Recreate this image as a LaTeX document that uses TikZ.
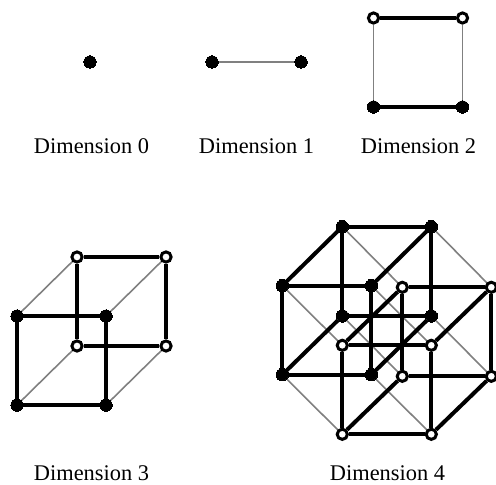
\documentclass[tikz,border=0pt]{standalone}
\usepackage{fontspec}
\setmainfont{Liberation Serif}
\usetikzlibrary{backgrounds}

\begin{document}
\begin{tikzpicture}[
  x=0.5pt, y=-0.5pt,
  solid vertex/.style={circle, fill=black, draw=black, line width=0pt, inner sep=0pt, minimum size=6.2pt},
  open vertex/.style={circle, fill=white, draw=black, line width=1.5pt, inner sep=0pt, minimum size=5.1pt},
  bold edge/.style={line width=2pt, black},
  thin edge/.style={line width=0.8pt, black!50},
  caption/.style={font=\fontsize{11.2}{13}\selectfont, inner sep=0pt}
]
\useasboundingbox (0,0) rectangle (496,485);
% dimension 0
\node[solid vertex] (z) at (90,62) {};
\node[caption] (zlabel) at (91.5,146) {Dimension 0};
% dimension 1
\node[solid vertex] (la) at (212,62) {};
\node[solid vertex] (lb) at (301,62) {};
\node[caption] (llabel) at (256.5,146) {Dimension 1};
% dimension 2
\node[solid vertex] (sa) at (373.5,107) {};
\node[solid vertex] (sb) at (462.5,107) {};
\node[open vertex] (sc) at (373.5,18) {};
\node[open vertex] (sd) at (462.5,18) {};
\node[caption] (slabel) at (418.5,146) {Dimension 2};
% dimension 3
\node[solid vertex] (ca) at (17,316) {};
\node[solid vertex] (cb) at (106,316) {};
\node[solid vertex] (cc) at (17,405) {};
\node[solid vertex] (cd) at (106,405) {};
\node[open vertex] (ce) at (77,257) {};
\node[open vertex] (cf) at (166,257) {};
\node[open vertex] (cg) at (77,346) {};
\node[open vertex] (ch) at (166,346) {};
\node[caption] (clabel) at (91.5,473) {Dimension 3};
% dimension 4
\node[solid vertex] (ta) at (342.3,226.7) {};
\node[solid vertex] (tb) at (431.3,226.7) {};
\node[solid vertex] (tc) at (342.3,316) {};
\node[solid vertex] (td) at (431.3,316) {};
\node[solid vertex] (te) at (282.3,285.7) {};
\node[solid vertex] (tf) at (371.3,285.7) {};
\node[solid vertex] (tg) at (282.3,374.7) {};
\node[solid vertex] (th) at (371.3,374.7) {};
\node[open vertex] (ua) at (402.3,287.3) {};
\node[open vertex] (ub) at (491.3,287.3) {};
\node[open vertex] (uc) at (402.3,376.3) {};
\node[open vertex] (ud) at (491.3,376.3) {};
\node[open vertex] (ue) at (342.3,345.3) {};
\node[open vertex] (uf) at (431.3,345.3) {};
\node[open vertex] (ug) at (342.3,434.3) {};
\node[open vertex] (uh) at (431.3,434.3) {};
\node[caption] (tlabel) at (387.5,473.5) {Dimension 4};
\begin{scope}[on background layer]
\draw[thin edge] (la) -- (lb);
\draw[thin edge] (sa) -- (sc);
\draw[thin edge] (sb) -- (sd);
\draw[bold edge] (sa) -- (sb);
\draw[bold edge] (sc) -- (sd);
\foreach \a/\b in {ca/ce,cb/cf,cc/cg,cd/ch}
  \draw[thin edge] (\a) -- (\b);
\foreach \a/\b in {ca/cb,cb/cd,cd/cc,cc/ca,ce/cf,cf/ch,ch/cg,cg/ce}
  \draw[bold edge] (\a) -- (\b);
\foreach \a/\b in {ta/ua,tb/ub,tc/uc,td/ud,te/ue,tf/uf,tg/ug,th/uh}
  \draw[thin edge] (\a) -- (\b);
\foreach \p in {t,u}
  \foreach \a/\b in {a/b,b/d,d/c,c/a,e/f,f/h,h/g,g/e,a/e,b/f,c/g,d/h}
    \draw[bold edge] (\p\a) -- (\p\b);
\end{scope}
\end{tikzpicture}
\end{document}
